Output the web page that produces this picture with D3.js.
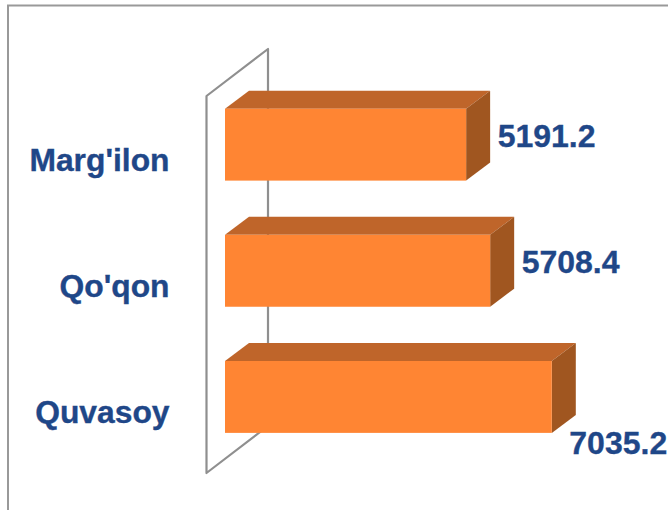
<!DOCTYPE html>
<html><head><meta charset="utf-8">
<script src="https://cdn.jsdelivr.net/npm/d3@7/dist/d3.min.js"></script>
<style>html,body{margin:0;padding:0;background:#fff;overflow:hidden}svg{display:block}</style>
</head><body><svg id="c" width="668" height="510"></svg>
<script>
const categories = ["Marg'ilon", "Qo'qon", "Quvasoy"];
const values = [5191.2, 5708.4, 7035.2];

const svg = d3.select("#c");
const ink = "#1f4788", wall = "#8f8f8f";
const x = d3.scaleLinear().domain([0, 7035.2]).range([225, 551.8]);
const y = d3.scaleBand().domain(categories).range([81.6, 460]).paddingInner(0.43).paddingOuter(0.215);
const dx = 24, dy = -18;

// chart frame (open at right and bottom, as it is cropped)
svg.append("path").attr("d", "M8,510V5.5H668").attr("fill", "none").attr("stroke", "#999").attr("stroke-width", 2);

// back wall of the 3-D plot
svg.append("path").attr("d", "M206.5,473V96L268,49V426Z").attr("fill", "#fff")
  .attr("stroke", wall).attr("stroke-width", 2.2).attr("stroke-linejoin", "round");

// bars
const rows = categories.map((c, i) => ({c, v: values[i], i}));
const g = svg.selectAll("g.bar").data(rows).join("g").attr("class", "bar");
g.append("path").attr("fill", "#bf652a").attr("d", d => {
  const t = y(d.c), l = x(0), r = x(d.v);
  return `M${l},${t}L${l+dx},${t+dy}H${r+dx}L${r},${t}Z`;
});
g.append("path").attr("fill", "#a05620").attr("d", d => {
  const t = y(d.c), b = t + y.bandwidth(), r = x(d.v);
  return `M${r},${t}L${r+dx},${t+dy}V${b+dy}L${r},${b}Z`;
});
g.append("rect").attr("fill", "#ff8533")
  .attr("x", x(0)).attr("y", d => y(d.c))
  .attr("width", d => x(d.v) - x(0)).attr("height", y.bandwidth());

// category axis
const axis = svg.append("g").attr("transform", "translate(169.5,0)")
  .call(d3.axisLeft(y).tickSize(0).tickPadding(0));
axis.select(".domain").remove();
axis.selectAll("text").attr("font-family", "'Liberation Sans', Arial, sans-serif")
  .attr("font-size", 31.8).attr("font-weight", "bold").attr("fill", ink)
  .attr("stroke", ink).attr("stroke-width", 0.35).attr("dy", 26);

// value labels: the longest bar's label sits below its end
g.append("text").text(d => d.v.toFixed(1))
  .attr("font-family", "'Liberation Sans', Arial, sans-serif")
  .attr("font-size", 32).attr("font-weight", "bold").attr("fill", ink)
  .attr("stroke", ink).attr("stroke-width", 0.35)
  .attr("x", d => x(d.v) + (d.i === 2 ? 17.5 : 31.5))
  .attr("y", d => y(d.c) + y.bandwidth() / 2 + (d.i === 2 ? 57 : 2.5));
</script></body></html>
